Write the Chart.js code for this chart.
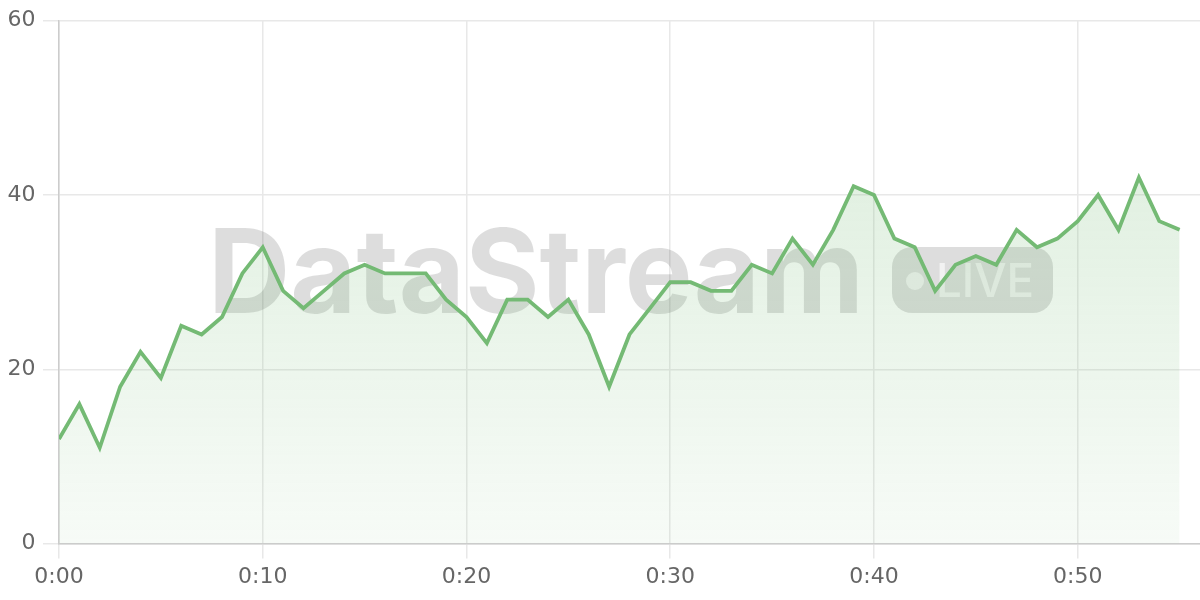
<!DOCTYPE html>
<html>
<head>
<meta charset="utf-8">
<script src="https://cdn.jsdelivr.net/npm/chart.js@4"></script>
<style>
html,body{margin:0;padding:0;background:#fff;}
#wrap{width:1200px;height:600px;}
</style>
</head>
<body>
<div id="wrap"><canvas id="c"></canvas></div>
<script>
const minutes = [0,1,2,3,4,5,6,7,8,9,10,11,12,13,14,15,16,17,18,19,20,21,22,23,24,25,26,27,28,29,30,31,32,33,34,35,36,37,38,39,40,41,42,43,44,45,46,47,48,49,50,51,52,53,54,55];
const values = [12,16,11,18,22,19,25,24,26,31,34,29,27,29,31,32,31,31,31,28,26,23,28,28,26,28,24,18,24,27,30,30,29,29,32,31,35,32,36,41,40,35,34,29,32,33,32,36,34,35,37,40,36,42,37,36];
const xTicks = [0,10,20,30,40,50];
const yTicks = [0,20,40,60];
const watermarkTitle = "DataStream";
const watermarkBadge = "LIVE";

const lineColor = '#74ba74';

const watermark = {
  id: 'watermark',
  beforeDatasetsDraw(chart) {
    const ctx = chart.ctx;
    ctx.save();
    ctx.fillStyle = 'rgba(0,0,0,0.135)';
    ctx.font = 'bold 117px Inter, "Liberation Sans", sans-serif';
    ctx.textBaseline = 'alphabetic';
    ctx.textAlign = 'left';
    const w = ctx.measureText(watermarkTitle).width;
    const target = 656;
    ctx.save();
    ctx.translate(208, 313);
    ctx.scale(target / w, 1);
    ctx.fillText(watermarkTitle, 0, 0);
    ctx.restore();
    // badge
    const bx = 892, by = 247, bw = 161, bh = 66, r = 20;
    ctx.beginPath();
    ctx.roundRect(bx, by, bw, bh, r);
    ctx.fill();
    ctx.fillStyle = 'rgba(255,255,255,0.62)';
    ctx.beginPath();
    ctx.arc(915, 281, 9, 0, Math.PI * 2);
    ctx.fill();
    ctx.font = '500 46px Inter, "Liberation Sans", sans-serif';
    const lw = ctx.measureText(watermarkBadge).width;
    ctx.save();
    ctx.translate(936, 297);
    ctx.scale(98 / lw, 1);
    ctx.fillText(watermarkBadge, 0, 0);
    ctx.restore();
    ctx.restore();
  }
};

const ctx = document.getElementById('c');
new Chart(ctx, {
  type: 'line',
  data: {
    datasets: [{
      data: minutes.map((m, i) => ({x: m, y: values[i]})),
      borderColor: lineColor,
      borderWidth: 3.8,
      pointRadius: 0,
      tension: 0,
      fill: 'origin',
      backgroundColor: (c) => {
        const area = c.chart.chartArea;
        if (!area) return 'rgba(116,186,116,0.15)';
        const g = c.chart.ctx.createLinearGradient(0, area.top, 0, area.bottom);
        g.addColorStop(0, 'rgba(116,186,116,0.28)');
        g.addColorStop(1, 'rgba(116,186,116,0.06)');
        return g;
      }
    }]
  },
  options: {
    responsive: true,
    maintainAspectRatio: false,
    animation: false,
    layout: { padding: { top: 8, right: 0, left: 0, bottom: 5 } },
    plugins: { legend: { display: false }, tooltip: { enabled: false } },
    scales: {
      x: {
        type: 'linear',
        min: 0,
        max: 56,
        afterBuildTicks: (s) => { s.ticks = xTicks.map(v => ({value: v})); },
        ticks: {
          color: '#666',
          font: { size: 22, family: '"DejaVu Sans", sans-serif' },
          padding: 5,
          maxRotation: 0,
          callback: (v) => '0:' + String(v).padStart(2, '0')
        },
        grid: { color: '#e8e8e8', lineWidth: 1.5, tickLength: 15 },
        border: { color: '#cccccc', width: 1.5 }
      },
      y: {
        min: 0,
        max: 60,
        afterBuildTicks: (s) => { s.ticks = yTicks.map(v => ({value: v})); },
        ticks: {
          color: '#666',
          font: { size: 22, family: '"DejaVu Sans", sans-serif' },
          padding: 7.5
        },
        grid: { color: '#e8e8e8', lineWidth: 1.5, tickLength: 16 },
        border: { color: '#cccccc', width: 1.5 }
      }
    }
  },
  plugins: [watermark]
});
</script>
</body>
</html>
